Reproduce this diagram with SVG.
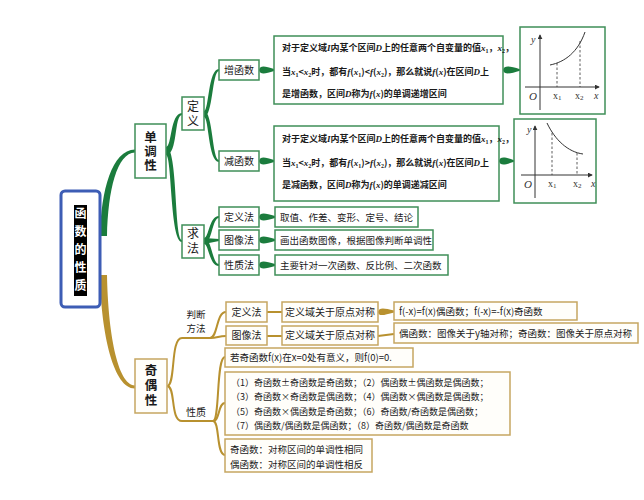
<svg xmlns="http://www.w3.org/2000/svg" width="644" height="500" viewBox="0 0 644 500">
<defs>
<style>
text{font-family:"Noto Sans CJK SC","Liberation Sans",sans-serif;fill:#1a1a1a}
.gb{fill:#fff;stroke:#3f8f58;stroke-width:1.5}
.yb{fill:#fffefa;stroke:#c6a661;stroke-width:1.5}
.lbl{font-size:10px;text-anchor:middle}
.vt{font-size:12.5px;font-weight:bold;writing-mode:vertical-rl;letter-spacing:1.5px}
.desc{font-size:9px;font-weight:bold}
.t{font-size:9.5px}
.g9{font-size:9px}
.m{font-family:"Liberation Serif",serif;font-style:italic;font-weight:bold}
.sub{font-family:"Liberation Serif",serif;font-size:6px}
.gf{fill:#1b7c3d}
.yf{fill:#b8912f}
.ys{fill:none;stroke:#b8912f;stroke-width:2}
.ax{stroke:#333;stroke-width:1;fill:none}
.ds{stroke:#333;stroke-width:0.8;stroke-dasharray:2.5,2;fill:none}
.gt{font-family:"Liberation Serif",serif;font-style:italic;font-size:10px;fill:#333}
</style>
<marker id="ah" viewBox="0 0 6 6" refX="5" refY="3" markerWidth="5" markerHeight="5" orient="auto"><path d="M0,0 L6,3 L0,6 Z" fill="#333"/></marker>
</defs>
<rect width="644" height="500" fill="#fff"/>

<g id="connectors">
<path class="gf" d="M100,236 C101,190 112,150 135,149.5 L135,152.5 C117,153 108,190 107,236 Z"/>
<path class="yf" d="M107,275 C108,330 117,385 135,385.5 L135,388.5 C114,389 101,335 100,275 Z"/>
<path class="gf" d="M166,147 C172,147 170,113 182,113 L182,115 C174,115 178,155 166,155 Z"/>
<path class="gf" d="M166,155 C172,155 170,242 182,242 L182,240 C174,240 178,147 166,147 Z"/>
<path class="gf" d="M204,111 C209,111 208,69 219,69 L219,71 C212,71 213,117 204,117 Z"/>
<path class="gf" d="M204,117 C209,117 208,162 219,162 L219,160 C212,160 213,111 204,111 Z"/>
<path class="gf" d="M204,238 C209,238 209,216 219,216 L219,218 C212,218 212,244 204,244 Z"/>
<path class="gf" d="M204,238 L219,239 L219,241 L204,244 Z"/>
<path class="gf" d="M204,244 C209,244 209,266 219,266 L219,264 C212,264 212,238 204,238 Z"/>
<path class="gf" d="M259,70 C260,65 265,66 274,69 L274,71 C265,74 260,75 259,70 Z"/>
<path class="gf" d="M259,161 C260,156 265,157 274,160 L274,162 C265,165 260,166 259,161 Z"/>
<path class="gf" d="M259,217 C260,212 265,213 275,216 L275,218 C265,221 260,222 259,217 Z"/>
<path class="gf" d="M259,240 C260,235 265,236 275,239 L275,241 C265,244 260,245 259,240 Z"/>
<path class="gf" d="M259,265 C260,260 265,261 275,264 L275,266 C265,269 260,270 259,265 Z"/>
<path class="gf" d="M503,70 C504,65 510,66 520,69.2 L520,70.8 C510,74 504,75 503,70 Z"/>
<path class="gf" d="M499,161 C500,156 505,157 514,160.2 L514,161.8 C505,165 500,166 499,161 Z"/>
<path class="ys" d="M167,386 C176,386 170,338 182,338 L210,338"/>
<path class="ys" d="M167,386 C176,386 170,421 182,421 L213,421"/>
<path class="ys" d="M210,338 C218,338 216,312 226,312"/>
<path class="ys" d="M210,338 C218,338 218,336 226,336"/>
<path class="ys" d="M213,421 C220,421 216,357 225,357"/>
<path class="ys" d="M213,421 C220,421 218,403 225,403"/>
<path class="ys" d="M213,421 C220,421 216,455 225,455"/>
<path class="ys" d="M267,312 L282,312"/>
<path class="ys" d="M267,336 L282,336"/>
<path class="ys" d="M378,336 L394,334"/>
<path class="yf" d="M378,312 C379,307 384,308 394,310.5 L394,312.5 C384,315 379,317 378,312 Z"/>
</g>

<g id="root">
<rect x="61" y="191" width="39" height="116" rx="4" fill="#fff" stroke="#3d5db5" stroke-width="3"/>
<rect x="74" y="205" width="13" height="91" fill="#000"/>
<text class="vt" x="80.5" y="207" style="fill:#fff;font-size:12px;letter-spacing:6px">函数的性质</text>
</g>

<g id="n-dandiao">
<rect class="gb" x="135" y="124" width="31" height="54"/>
<text class="vt" x="150.5" y="130.5">单调性</text>
</g>
<g id="n-dingyi">
<rect class="gb" x="182" y="97" width="22" height="33"/>
<text class="vt" x="193" y="100" style="font-weight:normal;font-size:12px;letter-spacing:3.5px">定义</text>
</g>
<g id="n-qiufa">
<rect class="gb" x="182" y="225" width="22" height="33"/>
<text class="vt" x="193" y="227.5" style="font-weight:normal;font-size:12px;letter-spacing:3px">求法</text>
</g>
<g id="n-zeng">
<rect class="gb" x="219" y="60" width="40" height="20"/>
<text class="lbl" x="239" y="73.5">增函数</text>
</g>
<g id="n-jian">
<rect class="gb" x="219" y="151" width="40" height="20"/>
<text class="lbl" x="239" y="164.5">减函数</text>
</g>
<g id="n-dyf">
<rect class="gb" x="219" y="207" width="40" height="20"/>
<text class="lbl" x="239" y="220.5">定义法</text>
</g>
<g id="n-txf">
<rect class="gb" x="219" y="230" width="40" height="20"/>
<text class="lbl" x="239" y="243.5">图像法</text>
</g>
<g id="n-xzf">
<rect class="gb" x="219" y="255" width="40" height="20"/>
<text class="lbl" x="239" y="268.5">性质法</text>
</g>

<g id="n-zeng-desc">
<rect class="gb" x="274" y="36" width="229" height="68"/>
<text class="desc" x="282" y="50.5">对于定义域<tspan class="m">I</tspan>内某个区间<tspan class="m">D</tspan>上的任意两个自变量的值<tspan class="m">x</tspan><tspan class="sub" dy="2">1</tspan><tspan dy="-2">，</tspan><tspan class="m">x</tspan><tspan class="sub" dy="2">2</tspan><tspan dy="-2">，</tspan></text>
<text class="desc" x="282" y="74.5">当<tspan class="m">x</tspan><tspan class="sub" dy="2">1</tspan><tspan dy="-2">&lt;</tspan><tspan class="m">x</tspan><tspan class="sub" dy="2">2</tspan><tspan dy="-2">时，都有</tspan><tspan class="m">f</tspan>(<tspan class="m">x</tspan><tspan class="sub" dy="2">1</tspan><tspan dy="-2">)&lt;</tspan><tspan class="m">f</tspan>(<tspan class="m">x</tspan><tspan class="sub" dy="2">2</tspan><tspan dy="-2">)，那么就说</tspan><tspan class="m">f</tspan>(<tspan class="m">x</tspan>)在区间<tspan class="m">D</tspan>上</text>
<text class="desc" x="282" y="96.5">是增函数，区间<tspan class="m">D</tspan>称为<tspan class="m">f</tspan>(<tspan class="m">x</tspan>)的单调递增区间</text>
</g>
<g id="n-jian-desc">
<rect class="gb" x="274" y="126" width="225" height="75"/>
<text class="desc" x="282" y="141.5">对于定义域<tspan class="m">I</tspan>内某个区间<tspan class="m">D</tspan>上的任意两个自变量的值<tspan class="m">x</tspan><tspan class="sub" dy="2">1</tspan><tspan dy="-2">，</tspan><tspan class="m">x</tspan><tspan class="sub" dy="2">2</tspan><tspan dy="-2">，</tspan></text>
<text class="desc" x="282" y="165.5">当<tspan class="m">x</tspan><tspan class="sub" dy="2">1</tspan><tspan dy="-2">&lt;</tspan><tspan class="m">x</tspan><tspan class="sub" dy="2">2</tspan><tspan dy="-2">时，都有</tspan><tspan class="m">f</tspan>(<tspan class="m">x</tspan><tspan class="sub" dy="2">1</tspan><tspan dy="-2">)&gt;</tspan><tspan class="m">f</tspan>(<tspan class="m">x</tspan><tspan class="sub" dy="2">2</tspan><tspan dy="-2">)，那么就说</tspan><tspan class="m">f</tspan>(<tspan class="m">x</tspan>)在区间<tspan class="m">D</tspan>上</text>
<text class="desc" x="282" y="187.5">是减函数，区间<tspan class="m">D</tspan>称为<tspan class="m">f</tspan>(<tspan class="m">x</tspan>)的单调递减区间</text>
</g>

<g id="n-graph-inc">
<rect class="gb" x="520" y="27" width="85" height="87"/>
<line class="ax" x1="540" y1="110" x2="540" y2="35" marker-end="url(#ah)"/>
<line class="ax" x1="525" y1="87" x2="599" y2="87" marker-end="url(#ah)"/>
<path d="M550,65 C565,62 578,52 585,32" fill="none" stroke="#333" stroke-width="1"/>
<line class="ds" x1="557" y1="63" x2="557" y2="87"/>
<line class="ds" x1="580" y1="41" x2="580" y2="87"/>
<text class="gt" x="531" y="43">y</text>
<text class="gt" x="529" y="100" style="font-size:11px">O</text>
<text class="gt" x="553" y="99" style="font-style:normal">x<tspan style="font-size:7px" dy="1">1</tspan></text>
<text class="gt" x="575" y="99" style="font-style:normal">x<tspan style="font-size:7px" dy="1">2</tspan></text>
<text class="gt" x="594" y="99">x</text>
</g>
<g id="n-graph-dec">
<rect class="gb" x="514" y="119" width="82" height="84"/>
<line class="ax" x1="535" y1="198" x2="535" y2="126" marker-end="url(#ah)"/>
<line class="ax" x1="521" y1="175" x2="592" y2="175" marker-end="url(#ah)"/>
<path d="M547,123 C555,140 568,152 583,154" fill="none" stroke="#333" stroke-width="1"/>
<line class="ds" x1="552" y1="133" x2="552" y2="175"/>
<line class="ds" x1="577" y1="153" x2="577" y2="175"/>
<text class="gt" x="527" y="133">y</text>
<text class="gt" x="524" y="188" style="font-size:11px">O</text>
<text class="gt" x="548" y="187" style="font-style:normal">x<tspan style="font-size:7px" dy="1">1</tspan></text>
<text class="gt" x="573" y="187" style="font-style:normal">x<tspan style="font-size:7px" dy="1">2</tspan></text>
<text class="gt" x="591" y="187">x</text>
</g>

<g id="n-dyf-desc">
<rect class="gb" x="275" y="207" width="143" height="20"/>
<text class="t" x="280" y="220.5">取值、作差、变形、定号、结论</text>
</g>
<g id="n-txf-desc">
<rect class="gb" x="275" y="230" width="158" height="20"/>
<text class="t" x="280" y="243.5">画出函数图像，根据图像判断单调性</text>
</g>
<g id="n-xzf-desc">
<rect class="gb" x="275" y="255" width="173" height="20"/>
<text class="t" x="280" y="268.5">主要针对一次函数、反比例、二次函数</text>
</g>

<g id="n-qiou">
<rect class="yb" x="135" y="359" width="32" height="54"/>
<text class="vt" x="151" y="364" style="letter-spacing:2.5px">奇偶性</text>
</g>
<g id="n-pdff">
<text class="lbl" x="196" y="318" style="font-size:9.5px">判断</text>
<text class="lbl" x="196" y="332" style="font-size:9.5px">方法</text>
</g>
<g id="n-xz">
<text class="lbl" x="196" y="416">性质</text>
</g>
<g id="n-y-dyf">
<rect class="yb" x="226" y="302" width="41" height="20"/>
<text class="lbl" x="246.5" y="315.5">定义法</text>
</g>
<g id="n-y-txf">
<rect class="yb" x="226" y="326" width="41" height="19"/>
<text class="lbl" x="246.5" y="339">图像法</text>
</g>
<g id="n-y-sym1">
<rect class="yb" x="282" y="302" width="96" height="20"/>
<text class="lbl" x="330" y="315.5">定义域关于原点对称</text>
</g>
<g id="n-y-sym2">
<rect class="yb" x="282" y="326" width="96" height="19"/>
<text class="lbl" x="330" y="339">定义域关于原点对称</text>
</g>
<g id="n-y-def">
<rect class="yb" x="394" y="302" width="183" height="18"/>
<text class="t" x="399" y="314.5">f(-x)=f(x)偶函数；f(-x)=-f(x)奇函数</text>
</g>
<g id="n-y-img">
<rect class="yb" x="394" y="323" width="244" height="20"/>
<text class="t" x="399" y="336.5">偶函数：图像关于y轴对称；奇函数：图像关于原点对称</text>
</g>
<g id="n-y-zero">
<rect class="yb" x="225" y="348" width="188" height="19"/>
<text class="t" x="230" y="361">若奇函数f(x)在x=0处有意义，则f(0)=0.</text>
</g>
<g id="n-y-ops">
<rect class="yb" x="225" y="372" width="285" height="63"/>
<text class="g9" x="231" y="386">（1）奇函数±奇函数是奇函数；（2）偶函数±偶函数是偶函数；</text>
<text class="g9" x="231" y="400">（3）奇函数×奇函数是偶函数；（4）偶函数×偶函数是偶函数；</text>
<text class="g9" x="231" y="414.5">（5）奇函数×偶函数是奇函数；（6）奇函数/奇函数是偶函数；</text>
<text class="g9" x="231" y="429">（7）偶函数/偶函数是偶函数；（8）奇函数/偶函数是奇函数</text>
</g>
<g id="n-y-mono">
<rect class="yb" x="225" y="439" width="147" height="33"/>
<text class="t" x="230" y="453">奇函数：对称区间的单调性相同</text>
<text class="t" x="230" y="467.5">偶函数：对称区间的单调性相反</text>
</g>
</svg>
